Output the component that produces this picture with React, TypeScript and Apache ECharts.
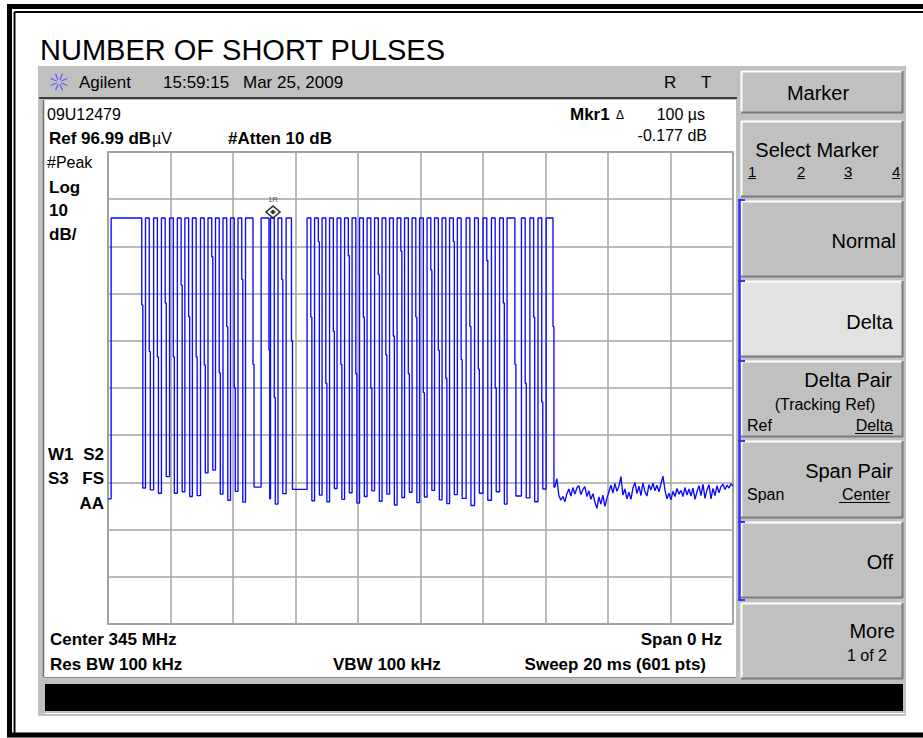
import React, { useEffect, useRef } from 'react';
import * as echarts from 'echarts';

// ---- Data ----
const REF_DBUV = 96.99;
const DB_PER_DIV = 10;
const DIVISIONS = 10;
const SWEEP_MS = 20;
const SWEEP_POINTS = 601;
const TIME_DIV_MS = 2;

const TRACE_START_DBUV = 23.5;
const PULSE_HIGH_DBUV = 83.0;

const PULSE_RISE_MS = [
  0.10, 1.20, 1.46, 1.71, 1.97, 2.22, 2.46, 2.70, 2.96, 3.20,
  3.44, 3.68, 3.92, 4.16, 4.40, 4.90, 5.20, 5.44, 5.70, 6.37,
  6.61, 6.85, 7.09, 7.33, 7.57, 7.81, 8.05, 8.29, 8.53, 8.77,
  9.01, 9.25, 9.49, 9.73, 9.97, 10.21, 10.45, 10.69, 10.93, 11.18,
  11.46, 11.73, 12.00, 12.27, 12.53, 12.77, 13.23, 13.50, 13.76, 14.02,
];
const PULSE_FALL_MS = [
  1.08, 1.32, 1.58, 1.83, 2.09, 2.34, 2.58, 2.82, 3.08, 3.32,
  3.56, 3.80, 4.04, 4.28, 4.64, 5.15, 5.32, 5.56, 5.87, 6.49,
  6.73, 6.97, 7.21, 7.45, 7.69, 7.93, 8.17, 8.41, 8.65, 8.89,
  9.13, 9.37, 9.61, 9.85, 10.09, 10.33, 10.57, 10.81, 11.05, 11.30,
  11.58, 11.85, 12.12, 12.39, 12.65, 13.02, 13.35, 13.62, 13.88, 14.24,
];
const PULSE_SHOULDER_DBUV = [
  64.6, 54.7, 53.6, 65.0, 53.6, 68.8, 62.1, 53.6, 51.9, 74.8,
  50.2, 60.0, 47.0, 70.0, 52.0, 55.0, 45.0, 70.0, 57.0, 62.0,
  78.0, 48.0, 59.0, 52.0, 75.0, 50.0, 62.0, 47.0, 71.0, 54.0,
  58.0, 76.0, 50.0, 62.0, 46.0, 72.0, 55.0, 49.0, 78.0, 53.0,
  60.0, 51.0, 74.0, 47.0, 65.0, 52.0, 48.0, 62.0, 44.0, 60.0,
];
const PULSE_LOW_DBUV = [
  25.8, 25.4, 24.7, 28.2, 24.7, 25.0, 24.0, 24.2, 29.0, 29.6,
  24.5, 23.2, 25.1, 22.8, 26.0, 23.5, 22.4, 24.6, 25.5, 23.1,
  24.3, 22.9, 25.7, 23.4, 24.8, 22.6, 24.0, 25.2, 23.0, 24.5,
  22.2, 23.8, 24.9, 22.7, 23.9, 25.3, 23.3, 22.5, 24.4, 23.6,
  22.1, 24.7, 23.2, 25.0, 22.4, 24.1, 23.7, 22.9, 25.6, 26.0,
];

const NOISE_START_MS = 14.30;
const NOISE_DBUV = [
  26.0, 27.8, 24.2, 23.2, 24.0, 22.9, 24.6, 25.6, 24.1, 25.9,
  24.5, 25.8, 26.3, 24.4, 25.5, 26.1, 24.0, 25.2, 23.4, 24.6,
  22.8, 21.5, 23.9, 22.4, 24.3, 21.9, 23.6, 25.0, 26.4, 24.7,
  26.8, 25.1, 26.2, 28.2, 24.3, 25.6, 23.5, 24.9, 23.4, 25.8,
  27.0, 24.6, 26.2, 24.2, 26.9, 25.0, 24.1, 26.5, 25.4, 26.8,
  25.2, 26.4, 25.0, 26.7, 28.3, 25.4, 23.5, 24.7, 23.3, 25.1,
  24.0, 25.7, 24.5, 25.3, 24.0, 25.9, 24.3, 25.6, 24.1, 25.8,
  23.4, 25.0, 26.3, 24.2, 26.6, 23.6, 25.4, 26.5, 23.5, 25.7,
  24.2, 26.3, 24.8, 26.1, 26.6, 25.5, 26.4, 25.8, 26.7, 26.2,
];

const MARKER_MS = 5.28;
const MARKER_DBUV = 83.0;

// ---- helpers ----
const FONT = '"Liberation Sans", Arial, Helvetica, sans-serif';
const BOTTOM_DBUV = REF_DBUV - DB_PER_DIV * DIVISIONS;
const SAMPLE_MS = SWEEP_MS / (SWEEP_POINTS - 1);
const toAxis = (db: number) => db - BOTTOM_DBUV;

function buildTrace(): number[][] {
  const pts: number[][] = [[0, toAxis(TRACE_START_DBUV)]];
  let prev = TRACE_START_DBUV;
  for (let i = 0; i < PULSE_RISE_MS.length; i++) {
    const r = PULSE_RISE_MS[i];
    const f = PULSE_FALL_MS[i];
    const next = i + 1 < PULSE_RISE_MS.length ? PULSE_RISE_MS[i + 1] : NOISE_START_MS;
    const shEnd = Math.min(f + SAMPLE_MS, (f + next) / 2);
    pts.push([r, toAxis(prev)]);
    pts.push([r, toAxis(PULSE_HIGH_DBUV)]);
    pts.push([f, toAxis(PULSE_HIGH_DBUV)]);
    pts.push([f, toAxis(PULSE_SHOULDER_DBUV[i])]);
    pts.push([shEnd, toAxis(PULSE_SHOULDER_DBUV[i])]);
    pts.push([shEnd, toAxis(PULSE_LOW_DBUV[i])]);
    prev = PULSE_LOW_DBUV[i];
  }
  pts.push([NOISE_START_MS, toAxis(prev)]);
  const n = NOISE_DBUV.length;
  NOISE_DBUV.forEach((v, i) => {
    pts.push([NOISE_START_MS + ((SWEEP_MS - NOISE_START_MS) * i) / (n - 1), toAxis(v)]);
  });
  return pts;
}

function txt(text: string, x: number, y: number, size: number, opt: any = {}) {
  const align = opt.align || 'left';
  return {
    type: 'text',
    x,
    y,
    z: 30,
    silent: true,
    style: {
      text,
      fill: opt.color || '#000',
      font: `${opt.bold ? 'bold ' : ''}${size}px ${FONT}`,
      align,
      verticalAlign: 'middle',
      textAlign: align,
      textVerticalAlign: 'middle',
    },
  };
}
function ln(x1: number, y1: number, x2: number, y2: number, stroke: string, w = 1, z = 25) {
  return { type: 'line', z, silent: true, shape: { x1, y1, x2, y2 }, style: { stroke, lineWidth: w } };
}
function rc(x: number, y: number, w: number, h: number, fill: string, z = -10, stroke = 'none', lw = 0) {
  return { type: 'rect', z, silent: true, shape: { x, y, width: w, height: h }, style: { fill, stroke, lineWidth: lw } };
}
function button(x: number, y: number, w: number, h: number, fill: string) {
  return [
    rc(x, y, w, h, fill, -8),
    ln(x, y + 0.5, x + w, y + 0.5, '#ffffff', 2, -7),
    ln(x + 0.5, y, x + 0.5, y + h, '#ffffff', 2, -7),
    ln(x, y + h - 0.5, x + w, y + h - 0.5, '#7a7a7a', 2, -7),
    ln(x + w - 0.5, y, x + w - 0.5, y + h, '#7a7a7a', 2, -7),
  ];
}

function buildGraphics() {
  const els: any[] = [];
  // outer frame: thick outer line, thin inner line on top and left
  els.push(rc(9.5, 6.5, 930, 728.5, 'none', -20, '#000', 5));
  els.push(ln(14.5, 12, 923, 12, '#000', 2, -20));
  els.push(ln(14.5, 12, 14.5, 733, '#000', 2, -20));
  // title
  els.push(txt('NUMBER OF SHORT PULSES', 40, 50, 29));
  // analyzer background
  els.push(rc(38, 66, 868, 650, '#c0c0c0', -15));
  // header separator
  els.push(rc(39, 97, 698, 2, '#3c3c3c', -12));
  // display area
  els.push(rc(44, 100, 692, 577, '#ffffff', -12));
  els.push(ln(43.5, 100, 43.5, 677, '#6e6e6e', 1.5, -11));
  els.push(ln(44, 677.5, 736, 677.5, '#8a8a8a', 1, -11));
  // black status bar
  els.push(rc(45, 684, 858, 27, '#000000', -11));
  els.push(ln(45, 713.5, 905, 713.5, '#ffffff', 1, -11));

  // Agilent logo (starburst)
  const cx = 59, cy = 82;
  for (let k = 0; k < 8; k++) {
    const a = (Math.PI * k) / 4 + Math.PI / 8;
    els.push(ln(cx + Math.cos(a) * 2.5, cy + Math.sin(a) * 2.5, cx + Math.cos(a) * 9, cy + Math.sin(a) * 9, '#5a5aff', 1.2, 26));
  }
  els.push(txt('Agilent', 79, 82, 17));
  els.push(txt('15:59:15', 163, 82, 17));
  els.push(txt('Mar 25, 2009', 243, 82, 17));
  els.push(txt('R', 664, 82, 17));
  els.push(txt('T', 701, 82, 17));

  // display texts
  els.push(txt('09U12479', 47, 114, 16));
  els.push(txt('Ref 96.99 dB', 49, 138, 17, { bold: true }));
  els.push(txt('\u00b5V', 152, 138, 16));
  els.push(txt('#Atten 10 dB', 228, 138, 17, { bold: true }));
  els.push(txt('Mkr1', 570, 114, 17, { bold: true }));
  els.push(txt('\u0394', 616, 115, 12));
  els.push(txt('100 \u00b5s', 705, 114, 16, { align: 'right' }));
  els.push(txt('-0.177 dB', 707, 135, 16, { align: 'right' }));
  els.push(txt('#Peak', 47, 162, 16));
  els.push(txt('Log', 49, 187, 17, { bold: true }));
  els.push(txt('10', 49, 210, 17, { bold: true }));
  els.push(txt('dB/', 49, 234, 17, { bold: true }));
  els.push(txt('W1', 48, 454, 17, { bold: true }));
  els.push(txt('S2', 104, 454, 17, { bold: true, align: 'right' }));
  els.push(txt('S3', 48, 478, 17, { bold: true }));
  els.push(txt('FS', 104, 478, 17, { bold: true, align: 'right' }));
  els.push(txt('AA', 104, 503, 17, { bold: true, align: 'right' }));
  els.push(txt('Center 345 MHz', 50, 639, 17, { bold: true }));
  els.push(txt('Span 0 Hz', 722, 639, 17, { bold: true, align: 'right' }));
  els.push(txt('Res BW 100 kHz', 50, 664, 17, { bold: true }));
  els.push(txt('VBW 100 kHz', 333, 664, 17, { bold: true }));
  els.push(txt('Sweep 20 ms (601 pts)', 706, 664, 17, { bold: true, align: 'right' }));

  // right panel
  const BX = 741, BW = 162;
  els.push(...button(BX, 71, BW, 42, '#c0c0c0'));
  els.push(txt('Marker', 818, 93, 20, { align: 'center' }));
  els.push(...button(BX, 121, BW, 76, '#c0c0c0'));
  els.push(txt('Select Marker', 817, 150, 20, { align: 'center' }));
  const digits = [['1', 748], ['2', 797], ['3', 844], ['4', 892]] as [string, number][];
  digits.forEach(([d, x]) => {
    els.push(txt(d, x, 171, 15));
    els.push(ln(x, 178.5, x + 8, 178.5, '#000', 1));
  });
  els.push(...button(BX, 201, BW, 76, '#c0c0c0'));
  els.push(txt('Normal', 896, 241, 20, { align: 'right' }));
  els.push(...button(BX, 281, BW, 76, '#e2e2e2'));
  els.push(txt('Delta', 893, 322, 20, { align: 'right' }));
  els.push(...button(BX, 361, BW, 76, '#c0c0c0'));
  els.push(txt('Delta Pair', 892, 380, 20, { align: 'right' }));
  els.push(txt('(Tracking Ref)', 825, 404, 16, { align: 'center' }));
  els.push(txt('Ref', 747, 425, 16));
  els.push(txt('Delta', 893, 425, 16, { align: 'right' }));
  els.push(ln(855, 433.5, 893, 433.5, '#000', 1));
  els.push(...button(BX, 441, BW, 77, '#c0c0c0'));
  els.push(txt('Span Pair', 893, 471, 20, { align: 'right' }));
  els.push(txt('Span', 747, 494, 16));
  els.push(txt('Center', 890, 494, 16, { align: 'right' }));
  els.push(ln(839, 502.5, 890, 502.5, '#000', 1));
  els.push(...button(BX, 522, BW, 76, '#c0c0c0'));
  els.push(txt('Off', 893, 562, 20, { align: 'right' }));
  els.push(...button(BX, 603, BW, 76, '#c0c0c0'));
  els.push(txt('More', 895, 631, 20, { align: 'right' }));
  els.push(txt('1 of 2', 887, 655, 16, { align: 'right' }));

  // blue bracket of active group
  els.push(ln(739.5, 199, 739.5, 601, '#3333ff', 2.5, 26));
  [200, 281, 361, 441, 522, 600].forEach((y) => els.push(ln(738, y, 745, y, '#3333ff', 2, 26)));

  return els;
}

export default function App() {
  const ref = useRef<HTMLDivElement>(null);
  useEffect(() => {
    if (!ref.current) return;
    const chart = echarts.init(ref.current, undefined, { renderer: 'svg' });
    const markerPt = [[MARKER_MS, toAxis(MARKER_DBUV)]];
    chart.setOption({
      animation: false,
      backgroundColor: '#ffffff',
      grid: {
        left: 108,
        top: 152,
        width: 625,
        height: 472,
        show: true,
        borderColor: '#858585',
        borderWidth: 1.5,
        backgroundColor: 'transparent',
      },
      xAxis: {
        type: 'value',
        min: 0,
        max: SWEEP_MS,
        interval: TIME_DIV_MS,
        axisLine: { show: false },
        axisTick: { show: false },
        axisLabel: { show: false },
        splitLine: { show: true, lineStyle: { color: '#a3a3a3', width: 1.5 } },
      },
      yAxis: {
        type: 'value',
        min: 0,
        max: DB_PER_DIV * DIVISIONS,
        interval: DB_PER_DIV,
        axisLine: { show: false },
        axisTick: { show: false },
        axisLabel: { show: false },
        splitLine: { show: true, lineStyle: { color: '#a3a3a3', width: 1.5 } },
      },
      graphic: { elements: buildGraphics() },
      series: [
        {
          type: 'line',
          data: buildTrace(),
          showSymbol: false,
          symbol: 'none',
          silent: true,
          clip: true,
          lineStyle: { color: '#0a0aff', width: 1.35 },
          z: 5,
        },
        {
          type: 'scatter',
          data: markerPt,
          symbol: 'diamond',
          symbolSize: [14, 12],
          symbolOffset: [0, -6],
          silent: true,
          itemStyle: { color: '#ffffff', borderColor: '#000000', borderWidth: 1.6 },
          label: {
            show: true,
            formatter: '1R',
            position: 'top',
            offset: [0, -1],
            distance: 1,
            fontSize: 8,
            fontFamily: FONT,
            color: '#333',
          },
          z: 8,
        },
        {
          type: 'scatter',
          data: markerPt,
          symbol: 'diamond',
          symbolSize: [6, 5],
          symbolOffset: [0, -6],
          silent: true,
          itemStyle: { color: '#000000' },
          z: 9,
        },
      ],
    });
    return () => chart.dispose();
  }, []);
  return (
    <div
      ref={ref}
      style={{ position: 'absolute', left: 0, top: 0, width: 923, height: 738, background: '#fff' }}
    />
  );
}
